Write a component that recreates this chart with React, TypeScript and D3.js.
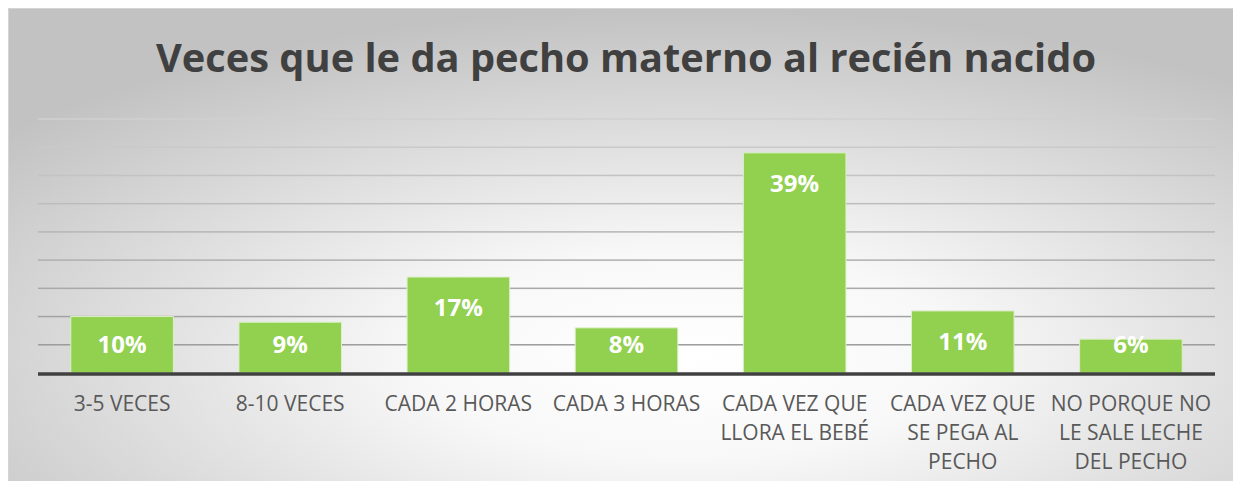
import React, { useEffect, useRef } from "react";
import * as d3 from "d3";

const title = "Veces que le da pecho materno al recién nacido";
const categories = [
  "3-5 VECES",
  "8-10 VECES",
  "CADA 2 HORAS",
  "CADA 3 HORAS",
  "CADA VEZ QUE\nLLORA EL BEBÉ",
  "CADA VEZ QUE\nSE PEGA AL\nPECHO",
  "NO PORQUE NO\nLE SALE LECHE\nDEL PECHO",
];
const values = [10, 9, 17, 8, 39, 11, 6];
const gridTicks = [5, 10, 15, 20, 25, 30, 35, 40, 45];

const W = 1233;
const H = 481;
const margin = { top: 111, right: 26, bottom: 116, left: 30 };

const App = () => {
  const ref = useRef<SVGSVGElement | null>(null);

  useEffect(() => {
    const svg = d3.select(ref.current);
    svg.selectAll("*").remove();

    const defs = svg.append("defs");
    const grad = defs
      .append("radialGradient")
      .attr("id", "bg")
      .attr("cx", "0.55")
      .attr("cy", "0.72")
      .attr("r", "0.72");
    grad.append("stop").attr("offset", "0").attr("stop-color", "#ffffff");
    grad.append("stop").attr("offset", "0.3").attr("stop-color", "#f8f8f8");
    grad.append("stop").attr("offset", "1").attr("stop-color", "#c2c2c2");

    const y = d3
      .scaleLinear()
      .domain([0, 45])
      .range([H - margin.bottom, margin.top]);

    const gridGrad = defs
      .append("linearGradient")
      .attr("id", "grid")
      .attr("gradientUnits", "userSpaceOnUse")
      .attr("x1", 0)
      .attr("x2", 0)
      .attr("y1", y(45))
      .attr("y2", y(0));
    gridGrad.append("stop").attr("offset", "0").attr("stop-color", "#d0d0d0");
    gridGrad.append("stop").attr("offset", "1").attr("stop-color", "#959595");

    svg
      .append("rect")
      .attr("x", 0.5)
      .attr("y", 0.5)
      .attr("width", W)
      .attr("height", H)
      .attr("fill", "url(#bg)")
      .attr("stroke", "#d4d4d4");

    const x = d3
      .scaleBand()
      .domain(categories)
      .range([margin.left, W - margin.right])
      .paddingInner(0.39)
      .paddingOuter(0.195);

    // gridlines
    svg
      .append("g")
      .selectAll("rect")
      .data(gridTicks)
      .join("rect")
      .attr("x", margin.left)
      .attr("width", W - margin.right - margin.left)
      .attr("y", (d) => y(d) - 0.75)
      .attr("height", 1.5)
      .attr("fill", "url(#grid)");

    // bars
    svg
      .append("g")
      .selectAll("rect")
      .data(values)
      .join("rect")
      .attr("x", (d, i) => x(categories[i])!)
      .attr("y", (d) => y(d))
      .attr("width", x.bandwidth())
      .attr("height", (d) => y(0) - y(d))
      .attr("fill", "#92D050")
      .attr("stroke", "#dcefc8")
      .attr("stroke-width", 1);

    // baseline
    svg
      .append("line")
      .attr("x1", margin.left)
      .attr("x2", W - margin.right)
      .attr("y1", y(0) + 1)
      .attr("y2", y(0) + 1)
      .attr("stroke", "#404040")
      .attr("stroke-width", 3.5);

    // value labels
    svg
      .append("g")
      .selectAll("text")
      .data(values)
      .join("text")
      .attr("x", (d, i) => x(categories[i])! + x.bandwidth() / 2)
      .attr("y", (d) => Math.min(y(d) + 39, y(0) - 20))
      .attr("text-anchor", "middle")
      .attr("font-family", "'Open Sans', sans-serif")
      .attr("font-weight", "bold")
      .attr("font-size", 24)
      .attr("fill", "#ffffff")
      .text((d) => `${d}%`);

    // category labels
    const cat = svg
      .append("g")
      .selectAll("text")
      .data(categories)
      .join("text")
      .attr("x", (d) => x(d)! + x.bandwidth() / 2)
      .attr("y", y(0) + 38)
      .attr("text-anchor", "middle")
      .attr("font-family", "'Open Sans', sans-serif")
      .attr("font-size", 21)
      .attr("fill", "#595959");
    cat
      .selectAll("tspan")
      .data((d) => d.split("\n"))
      .join("tspan")
      .attr("x", function () {
        return (this.parentNode as SVGTextElement).getAttribute("x");
      })
      .attr("dy", (d, i) => (i === 0 ? 0 : 29))
      .text((d) => d);

    // title
    svg
      .append("text")
      .attr("x", 618)
      .attr("y", 64)
      .attr("text-anchor", "middle")
      .attr("font-family", "'Open Sans', sans-serif")
      .attr("font-weight", "bold")
      .attr("font-size", 40)
      .attr("fill", "#404040")
      .attr("textLength", 940)
      .attr("lengthAdjust", "spacingAndGlyphs")
      .text(title);
  }, []);

  return (
    <svg
      ref={ref}
      width={W}
      height={H}
      style={{ display: "block", marginBottom: -8 }}
    />
  );
};

export default App;
